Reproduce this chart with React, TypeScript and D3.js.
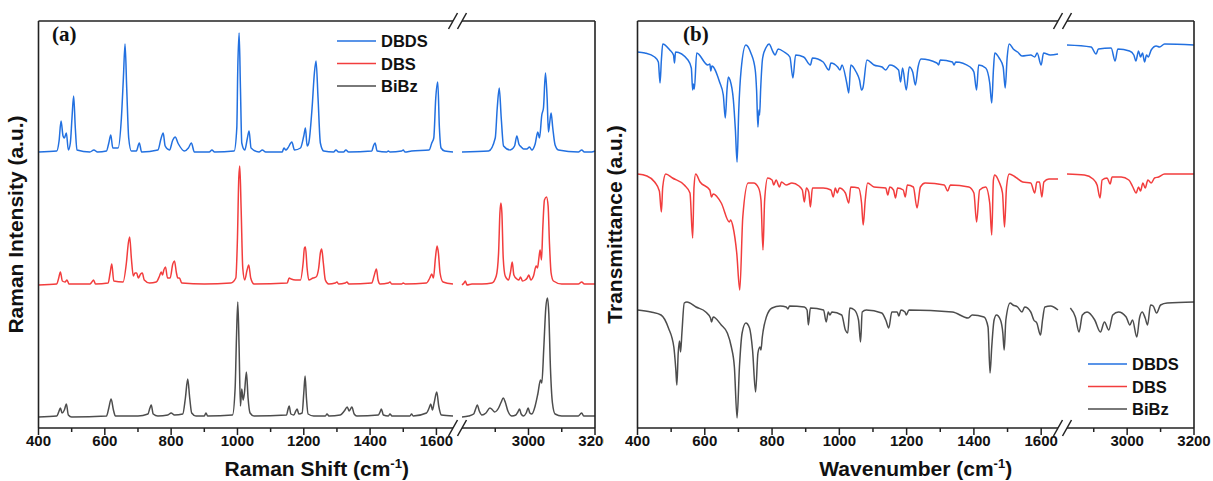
import React from 'react';
import * as d3 from 'd3';

type Pt = [number, number];

const seriesNames = ['DBDS', 'DBS', 'BiBz'];
const seriesColors = ['#2270E0', '#F23D3D', '#4D4D4D'];

const majorTicksLow = [400, 600, 800, 1000, 1200, 1400, 1600];
const minorTicksLow = [500, 700, 900, 1100, 1300, 1500];
const majorTicksHigh = [3000, 3200];
const minorTicksHigh = [2900, 3100];

// Raman spectra (a.u., stacked), wavenumber in cm-1
const ramanDBDS: Pt[] = [
  [400,276],[455,277],[462,287],[468,307],[474,292],[478,290],[484,295],[490,278],[496,285],[501,310],[506,332],[511,300],[516,278],
  [555,276],[567,278],[578,276],[605,277],[612,285],[618,293],[624,280],[640,280],[650,310],[656,350],[661,384],[666,340],[672,290],
  [680,277],[695,277],[704,285],[711,276],[760,278],[770,290],[776,295],[782,282],[795,278],[805,288],[812,291],[822,284],[840,277],
  [852,280],[861,285],[870,276],[915,276],[923,278],[931,276],[990,277],[998,300],[1001,360],[1005,395],[1009,340],[1013,285],
  [1022,278],[1030,290],[1035,297],[1041,280],[1065,276],[1075,278],[1085,276],[1135,276],[1140,280],[1146,278],[1152,280],[1164,286],
  [1172,278],[1190,280],[1200,292],[1205,300],[1210,282],[1215,285],[1225,320],[1232,355],[1237,367],[1243,330],[1250,285],[1260,277],
  [1290,276],[1297,278],[1305,276],[1320,276],[1327,278],[1335,276],[1405,277],[1410,282],[1415,285],[1421,277],[1450,276],[1455,277],
  [1460,276],[1495,277],[1500,278],[1505,276],[1525,277],[1578,278],[1586,285],[1592,290],[1598,330],[1604,346],[1609,300],[1614,280],
  [1625,277],[1650,276],
  [2800,276],[2880,277],[2900,290],[2906,320],[2912,340],[2918,310],[2925,282],[2945,278],[2958,282],[2965,292],[2971,284],[2978,281],
  [2985,279],[2995,279],[3003,281],[3010,278],[3020,284],[3028,296],[3033,290],[3040,313],[3045,320],[3051,355],[3056,330],[3060,296],
  [3064,306],[3068,315],[3073,300],[3080,283],[3090,278],[3150,276],[3160,278],[3168,276],[3190,276],[3200,277],
];

const ramanDBS: Pt[] = [
  [400,143],[455,144],[461,150],[466,156],[472,147],[480,146],[486,148],[492,144],[555,144],[561,146],[566,148],[572,144],[610,145],
  [616,155],[621,164],[627,147],[655,146],[665,165],[671,185],[675,191],[680,170],[686,152],[691,155],[696,155],[701,150],[708,154],
  [713,155],[719,148],[735,145],[755,146],[765,152],[770,156],[774,153],[778,158],[783,161],[789,150],[797,150],[805,164],[810,167],
  [816,155],[820,150],[825,150],[832,145],[900,144],[980,145],[995,150],[1000,190],[1004,250],[1007,262],[1011,220],[1016,160],
  [1022,148],[1029,158],[1034,163],[1040,150],[1050,144],[1150,145],[1156,150],[1162,149],[1175,148],[1190,148],[1198,165],[1202,180],
  [1205,181],[1210,160],[1215,148],[1228,150],[1237,151],[1245,160],[1250,175],[1254,179],[1259,165],[1265,148],[1275,144],[1295,145],
  [1300,146],[1305,144],[1325,145],[1330,146],[1336,144],[1405,145],[1412,152],[1419,159],[1424,148],[1430,144],[1455,145],[1460,146],
  [1465,144],[1495,144],[1500,145],[1506,144],[1570,145],[1580,150],[1586,154],[1591,150],[1597,170],[1602,182],[1606,175],[1611,155],
  [1620,146],[1650,144],
  [2800,143],[2806,145],[2810,147],[2815,143],[2830,144],[2860,144],[2890,145],[2903,152],[2910,175],[2914,215],[2917,225],[2920,215],
  [2924,170],[2930,152],[2940,148],[2946,156],[2951,166],[2956,153],[2965,149],[2971,148],[2976,151],[2982,147],[2990,148],[2996,150],
  [3001,153],[3007,148],[3015,152],[3023,162],[3027,160],[3032,172],[3035,178],[3039,168],[3043,200],[3048,228],[3054,231],[3059,222],
  [3063,185],[3068,155],[3075,147],[3100,144],[3150,144],[3160,146],[3168,144],[3200,144],
];

const ramanBiBz: Pt[] = [
  [400,11],[455,12],[461,16],[466,20],[471,15],[478,18],[484,24],[490,13],[500,11],[605,12],[612,20],[619,29],[626,18],[632,12],
  [700,12],[730,14],[736,20],[740,23],[746,14],[760,12],[790,13],[800,15],[810,13],[835,14],[843,30],[850,49],[856,30],[862,15],
  [875,12],[900,12],[905,15],[910,12],[985,13],[993,40],[997,90],[1001,126],[1005,80],[1009,22],[1013,39],[1017,28],[1021,35],
  [1027,56],[1032,30],[1038,15],[1050,12],[1148,13],[1152,18],[1156,22],[1161,14],[1170,13],[1176,17],[1180,19],[1185,14],[1195,15],
  [1200,35],[1204,52],[1208,30],[1213,14],[1230,12],[1265,12],[1270,14],[1276,12],[1310,13],[1322,17],[1331,21],[1337,17],[1345,21],
  [1352,14],[1360,12],[1425,13],[1430,16],[1434,19],[1440,13],[1455,12],[1460,14],[1466,12],[1520,12],[1525,14],[1530,12],[1570,15],
  [1578,20],[1583,24],[1588,18],[1593,25],[1601,36],[1607,22],[1615,13],[1650,12],
  [2800,11],[2820,12],[2835,14],[2841,19],[2846,23],[2852,17],[2860,13],[2872,15],[2884,20],[2892,18],[2898,16],[2910,20],[2918,26],
  [2924,30],[2930,26],[2938,17],[2950,12],[2962,13],[2968,16],[2973,19],[2978,14],[2985,12],[2993,15],[2999,20],[3004,15],[3010,14],
  [3020,22],[3028,34],[3036,48],[3040,45],[3046,80],[3052,120],[3057,130],[3061,115],[3066,60],[3072,25],[3080,14],[3100,12],
  [3150,12],[3156,14],[3160,15],[3166,12],[3200,12],
];

// FTIR transmittance (a.u., stacked)
const irDBDS: Pt[] = [
  [400,376],[422,375],[451,371],[462,366],[467,345],[471,368],[475,384],[496,378],[507,373],[510,365],[513,376],[550,368],[560,360],
  [564,338],[566,344],[569,339],[576,375],[609,363],[615,364],[618,357],[621,362],[644,346],[655,333],[661,310],[666,338],[670,351],
  [675,348],[685,328],[691,298],[696,266],[701,318],[708,358],[722,383],[737,375],[750,358],[754,338],[758,301],[761,318],[763,313],
  [766,338],[772,370],[783,381],[791,384],[803,376],[809,373],[818,379],[836,376],[853,371],[862,350],[870,373],[894,371],[914,363],
  [920,370],[952,366],[969,358],[975,365],[995,361],[1002,358],[1008,363],[1022,345],[1028,335],[1034,363],[1050,356],[1060,348],
  [1066,338],[1070,340],[1082,368],[1103,363],[1127,361],[1138,358],[1150,363],[1176,358],[1182,346],[1188,360],[1199,338],[1208,361],
  [1218,356],[1226,343],[1234,361],[1243,369],[1290,365],[1295,363],[1300,368],[1336,366],[1341,363],[1346,366],[1389,361],[1400,356],
  [1408,338],[1414,363],[1435,360],[1447,345],[1453,325],[1458,358],[1462,375],[1475,370],[1487,361],[1493,340],[1499,371],[1505,384],
  [1517,379],[1530,376],[1543,372],[1569,373],[1581,371],[1588,375],[1600,363],[1607,375],[1627,373],[1650,374],
  [2820,383],[2892,381],[2907,374],[2914,379],[2952,380],[2964,367],[2972,379],[3007,377],[3020,373],[3026,367],[3034,377],[3040,371],
  [3046,375],[3052,366],[3058,373],[3063,371],[3072,378],[3087,382],[3097,381],[3112,384],[3200,383],
];

const irDBS: Pt[] = [
  [400,254],[428,252],[451,246],[465,237],[471,216],[475,241],[484,254],[504,250],[539,243],[556,235],[564,190],[568,241],[573,254],
  [586,246],[615,238],[620,231],[625,234],[649,225],[673,206],[677,208],[684,201],[695,175],[704,138],[713,211],[729,245],[745,245],
  [760,240],[767,228],[773,178],[778,228],[787,250],[800,248],[805,243],[812,248],[822,241],[828,246],[842,243],[859,245],[880,242],
  [890,238],[896,226],[902,240],[909,236],[914,221],[920,240],[952,240],[975,238],[982,231],[988,240],[994,235],[1000,240],[1018,235],
  [1028,225],[1034,241],[1057,240],[1066,225],[1071,203],[1077,228],[1084,245],[1103,241],[1138,240],[1144,233],[1150,241],[1161,238],
  [1167,230],[1173,240],[1190,238],[1196,231],[1202,243],[1220,241],[1231,220],[1241,241],[1255,245],[1312,243],[1322,237],[1330,243],
  [1385,241],[1400,235],[1408,206],[1417,238],[1435,241],[1447,225],[1453,193],[1458,248],[1462,253],[1475,246],[1485,235],[1491,201],
  [1497,241],[1505,254],[1523,251],[1545,246],[1569,245],[1581,235],[1587,246],[1595,246],[1602,231],[1608,246],[1623,249],[1650,249],
  [2820,254],[2872,253],[2898,249],[2910,243],[2919,230],[2925,248],[2940,250],[2949,244],[2955,251],[2982,251],[3005,248],[3017,241],
  [3027,235],[3034,241],[3040,237],[3047,245],[3054,240],[3062,248],[3072,245],[3082,250],[3094,251],[3112,254],[3200,254],
];

const irBiBz: Pt[] = [
  [400,118],[440,116],[470,113],[492,100],[508,81],[514,58],[517,43],[521,75],[525,87],[528,76],[532,95],[539,125],[547,126],[574,121],
  [603,116],[617,110],[620,106],[625,111],[649,103],[667,95],[679,81],[688,61],[696,10],[703,61],[711,95],[722,105],[733,100],[742,78],
  [751,36],[758,75],[764,81],[767,78],[771,91],[783,111],[800,120],[824,122],[842,121],[847,119],[852,122],[896,121],[904,118],[908,103],
  [914,120],[953,118],[961,106],[967,116],[972,113],[978,116],[1007,113],[1018,98],[1025,95],[1031,120],[1045,118],[1057,108],[1063,86],
  [1068,116],[1080,118],[1126,115],[1138,108],[1147,100],[1156,116],[1172,116],[1177,112],[1183,118],[1195,116],[1199,113],[1207,118],
  [1336,116],[1383,110],[1395,113],[1430,111],[1442,101],[1448,55],[1453,81],[1460,108],[1467,113],[1479,108],[1486,95],[1490,78],
  [1495,108],[1508,125],[1516,123],[1530,121],[1543,116],[1551,121],[1569,116],[1578,108],[1587,105],[1598,93],[1604,108],[1611,121],
  [1628,122],[1650,118],
  [2830,120],[2845,111],[2856,96],[2866,113],[2880,116],[2903,108],[2920,96],[2932,106],[2945,98],[2957,113],[2974,116],[2997,111],
  [3008,103],[3016,108],[3029,91],[3037,110],[3045,116],[3054,110],[3061,103],[3070,123],[3078,122],[3088,115],[3100,123],[3120,125],
  [3200,126],
];

const ramanSeries = [ramanDBDS, ramanDBS, ramanBiBz];
const irSeries = [irDBDS, irDBS, irBiBz];

const W = 1213;
const H = 481;
const TOP = 21;
const BOTTOM = 428;
const FONT = 'Liberation Sans, Arial, Helvetica, sans-serif';
const AXIS = '#222';

type PanelProps = {
  id: string;
  left: number;
  breakL: number;
  breakR: number;
  right: number;
  lowDomain: [number, number];
  highDomain: [number, number];
  series: Pt[][];
  label: string;
  labelX: number;
  xTitle: string;
  yTitle: string;
  legendX: number;
  legendY: number;
  clipRight?: number;
};

function Panel(p: PanelProps) {
  const xLow = d3.scaleLinear().domain(p.lowDomain).range([p.left, p.breakL]);
  const xHigh = d3.scaleLinear().domain(p.highDomain).range([p.breakR, p.right]);
  const y = d3.scaleLinear().domain([0, 407]).range([BOTTOM, TOP]);

  const lineLow = d3.line<Pt>().x(d => xLow(d[0])).y(d => y(d[1])).curve(d3.curveMonotoneX);
  const lineHigh = d3.line<Pt>().x(d => xHigh(d[0])).y(d => y(d[1])).curve(d3.curveMonotoneX);

  // the "//" marks where the axis is broken
  const slash = (cx: number, cy: number, k: string) => (
    <line key={k} x1={cx - 4.5} y1={cy + 8} x2={cx + 4.5} y2={cy - 8} stroke={AXIS} strokeWidth={1.5} />
  );

  const ticks = [
    ...majorTicksLow.map(v => ({ x: xLow(v), major: true, v })),
    ...minorTicksLow.map(v => ({ x: xLow(v), major: false, v })),
    ...majorTicksHigh.map(v => ({ x: xHigh(v), major: true, v })),
    ...minorTicksHigh.map(v => ({ x: xHigh(v), major: false, v })),
  ];

  const midX = (p.left + p.right) / 2;
  const clipId = 'clip-' + p.id;

  return (
    <g>
      <defs>
        <clipPath id={clipId}>
          <rect x={p.left - 40} y={0} width={(p.clipRight ?? W) - (p.left - 40)} height={H} />
        </clipPath>
      </defs>
      <g clipPath={`url(#${clipId})`}>
        {p.series.map((s, i) => (
          <g key={i} fill="none" stroke={seriesColors[i]} strokeWidth={1.5} strokeLinejoin="round">
            <path d={lineLow(s.filter(d => d[0] <= p.lowDomain[1])) || ''} />
            <path d={lineHigh(s.filter(d => d[0] >= p.highDomain[0])) || ''} />
          </g>
        ))}

        <g stroke={AXIS} strokeWidth={1.6} fill="none">
          <line x1={p.left} y1={TOP} x2={p.left} y2={BOTTOM} />
          <line x1={p.right} y1={TOP} x2={p.right} y2={BOTTOM} />
          <line x1={p.left} y1={TOP} x2={p.breakL} y2={TOP} />
          <line x1={p.breakR} y1={TOP} x2={p.right} y2={TOP} />
          <line x1={p.left} y1={BOTTOM} x2={p.breakL} y2={BOTTOM} />
          <line x1={p.breakR} y1={BOTTOM} x2={p.right} y2={BOTTOM} />
        </g>
        {slash(p.breakL, TOP, 'tl')}
        {slash(p.breakR, TOP, 'tr')}
        {slash(p.breakL, BOTTOM, 'bl')}
        {slash(p.breakR, BOTTOM, 'br')}

        {ticks.map((t, i) => (
          <line key={i} x1={t.x} x2={t.x} y1={BOTTOM} y2={BOTTOM + (t.major ? 7 : 4)} stroke={AXIS} strokeWidth={1.5} />
        ))}
        {ticks.filter(t => t.major).map((t, i) => (
          <text key={i} x={t.x} y={446} textAnchor="middle" fontFamily={FONT} fontWeight="bold" fontSize={15} fill="#111">
            {t.v}
          </text>
        ))}
      </g>

      <text x={midX} y={476} textAnchor="middle" fontFamily={FONT} fontWeight="bold" fontSize={21} fill="#111">
        {p.xTitle} (cm<tspan dy={-8} fontSize={13}>-1</tspan><tspan dy={8}>)</tspan>
      </text>
      <text
        transform={`translate(${p.left - 16},${(TOP + BOTTOM) / 2}) rotate(-90)`}
        textAnchor="middle"
        fontFamily={FONT}
        fontWeight="bold"
        fontSize={21}
        fill="#111"
      >
        {p.yTitle}
      </text>
      <text x={p.labelX} y={41} fontFamily="Liberation Serif, Times New Roman, serif" fontWeight="bold" fontSize={21} fill="#111">
        {p.label}
      </text>

      {seriesNames.map((n, i) => (
        <g key={n} transform={`translate(${p.legendX},${p.legendY + i * 22.5})`}>
          <line x1={0} x2={39} y1={0} y2={0} stroke={seriesColors[i]} strokeWidth={1.6} />
          <text x={44} y={6} fontFamily={FONT} fontWeight="bold" fontSize={16.5} fill="#111">
            {n}
          </text>
        </g>
      ))}
    </g>
  );
}

export default function App() {
  return (
    <svg width={W} height={H} style={{ position: 'absolute', left: 0, top: 0, background: '#fff' }}>
      <rect width={W} height={H} fill="#fff" />
      <Panel
        id="a"
        left={38.5}
        breakL={453}
        breakR={462}
        right={595}
        lowDomain={[400, 1650]}
        highDomain={[2800, 3200]}
        series={ramanSeries}
        label="(a)"
        labelX={52}
        xTitle="Raman Shift"
        yTitle="Raman Intensity (a.u.)"
        legendX={337}
        legendY={41}
        clipRight={604}
      />
      <Panel
        id="b"
        left={637.5}
        breakL={1058}
        breakR={1067}
        right={1194}
        lowDomain={[400, 1650]}
        highDomain={[2820, 3200]}
        series={irSeries}
        label="(b)"
        labelX={683}
        xTitle="Wavenumber"
        yTitle="Transmittance (a.u.)"
        legendX={1088}
        legendY={364}
      />
    </svg>
  );
}
